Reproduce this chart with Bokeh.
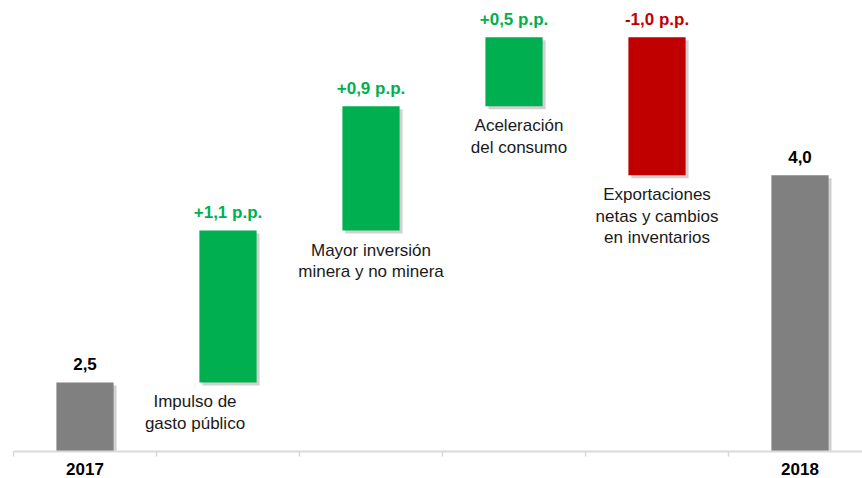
import numpy as np
from bokeh.plotting import figure
from bokeh.models import ColumnDataSource, Range1d, FixedTicker
from bokeh.core.properties import value
from bokeh.embed import file_html
from bokeh.resources import INLINE

# ---- data ----
categories = ["2017", "Impulso de\ngasto público", "Mayor inversión\nminera y no minera",
              "Aceleración\ndel consumo", "Exportaciones\nnetas y cambios\nen inventarios", "2018"]
axis_labels = ["2017", "", "", "", "", "2018"]
start_value = 2.5
changes = [1.1, 0.9, 0.5, -1.0]
end_value = 4.0
value_labels = ["2,5", "+1,1 p.p.", "+0,9 p.p.", "+0,5 p.p.", "-1,0 p.p.", "4,0"]

# ---- styles ----
GREEN = "#00b050"
RED = "#c00000"
GRAY = "#808080"
FONT = "Liberation Sans"
note_shift_px = [0, -33, 0, 5, 0, 0]

# ---- waterfall geometry from data ----
n = len(categories)
xc = np.arange(n) + 0.5
ch = np.array(changes)
after = start_value + np.cumsum(ch)
before = np.concatenate([[start_value], after[:-1]])
bottoms = np.concatenate([[0.0], np.minimum(before, after), [0.0]])
tops = np.concatenate([[start_value], np.maximum(before, after), [end_value]])
colors = [GRAY] + [GREEN if c > 0 else RED for c in ch] + [GRAY]
lab_colors = ["#000000"] + [GREEN if c > 0 else RED for c in ch] + ["#000000"]

bw = 0.4
src = ColumnDataSource(dict(x=xc, left=xc - bw / 2, right=xc + bw / 2, bottom=bottoms, top=tops,
                            color=colors, lab=value_labels, lab_color=lab_colors))

p = figure(width=862, height=478, frame_width=849, frame_height=443,
           output_backend="svg", toolbar_location=None,
           x_range=Range1d(0, 849 / 143), y_range=Range1d(2.0, 5.0 + 28.7 / 138),
           min_border_left=13, min_border_right=0, min_border_top=8, min_border_bottom=0)
p.outline_line_color = None
p.grid.visible = False
p.yaxis.visible = False
p.background_fill_color = "white"
p.border_fill_color = "white"

# shadows
sx, sy = 3 / 143, 3 / 138
p.quad(left=xc - bw / 2 + sx, right=xc + bw / 2 + sx, bottom=bottoms - sy, top=tops - sy,
       fill_color="#000000", fill_alpha=0.18, line_color=None)
p.quad(left="left", right="right", bottom="bottom", top="top", source=src,
       fill_color="color", line_color=None)

# value labels
p.text(x="x", y="top", text="lab", source=src, text_color="lab_color",
       text_font=value(FONT), text_font_size="17px", text_font_style="bold",
       text_align="center", text_baseline="middle", y_offset=-18)

# category notes below change bars
idx = list(range(1, n - 1))
note_src = ColumnDataSource(dict(x=[xc[i] for i in idx], y=[bottoms[i] for i in idx],
                                 t=[categories[i] for i in idx],
                                 dx=[note_shift_px[i] for i in idx]))
p.text(x="x", y="y", text="t", source=note_src, x_offset="dx", y_offset=10,
       text_font=value(FONT), text_font_size="17px", text_color="#1a1a1a",
       text_align="center", text_baseline="top", text_line_height=1.13)

# x axis
ax = p.xaxis[0]
ax.ticker = FixedTicker(ticks=list(xc), minor_ticks=list(range(n + 1)))
ax.major_label_overrides = {float(x): l for x, l in zip(xc, axis_labels)}
ax.major_tick_out = 0
ax.major_tick_in = 0
ax.minor_tick_out = 5
ax.minor_tick_in = 0
ax.minor_tick_line_color = "#d9d9d9"
ax.minor_tick_line_width = 1.5
ax.axis_line_color = "#d9d9d9"
ax.axis_line_width = 2
ax.major_label_standoff = 6
ax.major_label_text_font = FONT
ax.major_label_text_font_size = "17px"
ax.major_label_text_font_style = "bold"
ax.major_label_text_color = "#000000"

open("out.html", "w").write(file_html(p, INLINE))
